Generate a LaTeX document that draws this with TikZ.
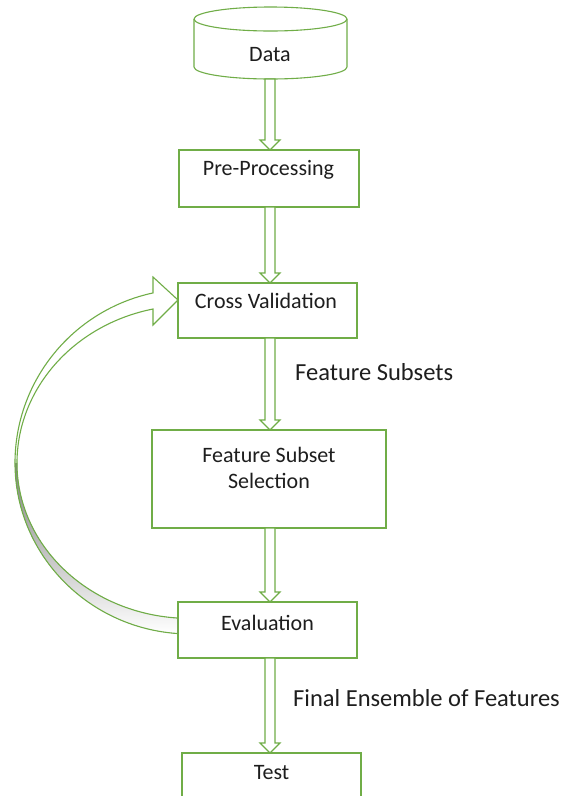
\documentclass[tikz,border=0pt]{standalone}
\usepackage{fontspec}
\setmainfont{Carlito}
\definecolor{leaf}{RGB}{112,173,71}
\definecolor{shade}{RGB}{204,204,204}
\definecolor{ink}{RGB}{30,30,30}
\begin{document}
\begin{tikzpicture}[x=1pt,y=-1pt,
  edge/.style={draw=leaf,line width=1.1pt},
  box/.style={edge,fill=white,inner sep=0pt},
  lbl/.style={font=\fontsize{22}{26}\selectfont,text=ink},
  note/.style={font=\fontsize{24.5}{28}\selectfont,text=ink,anchor=west,inner sep=0pt}]
\clip (0,0) rectangle (563,796);
\useasboundingbox (0,0) rectangle (563,796);
\fill[white] (0,0) rectangle (563,796);

% block arrow from y=#2 down to y=#3, centred on x=#1
\newcommand{\blockarrow}[3]{%
  \draw[edge,fill=white,line join=miter]
    (#1-5,#2) -- (#1+5,#2) -- (#1+5,#3-10) -- (#1+10,#3-10) -- (#1,#3)
    -- (#1-10,#3-10) -- (#1-5,#3-10) -- cycle;}

% Data store (y axis points down, so angle 90 is the lower side)
\draw[edge,fill=white]
  (194,19) -- (194,67) arc[start angle=180,end angle=0,x radius=76.5,y radius=12]
  -- (347,19) arc[start angle=0,end angle=-180,x radius=76.5,y radius=12];
\draw[edge] (194,19) arc[start angle=180,end angle=0,x radius=76.5,y radius=12];
\node[lbl] (data) at (270,55) {Data};

% process boxes
\node[box,minimum width=180pt,minimum height=57pt] (pre) at (269,178.5) {};
\node[lbl] at (268.5,170) {Pre-Processing};
\node[box,minimum width=179pt,minimum height=55pt] (cv) at (267.5,310.5) {};
\node[lbl] at (266,301) {Cross Validation};
\node[box,minimum width=234pt,minimum height=98pt] (fss) at (269,479) {};
\node[lbl,align=center] at (269,468) {Feature Subset\\Selection};
\node[box,minimum width=179pt,minimum height=56pt] (ev) at (267.5,630) {};
\node[lbl] at (267.5,623) {Evaluation};
\draw[edge,fill=white] (182,810) -- (182,753) -- (361,753) -- (361,810);
\node[lbl] (test) at (271.5,773) {Test};

% downward block arrows
\blockarrow{270}{79}{150}
\blockarrow{270}{207}{283}
\blockarrow{270}{338}{430}
\blockarrow{270}{528}{602}
\blockarrow{270}{658}{753}

\node[note] (fs) at (295,372) {Feature Subsets};
\node[note] (fe) at (293,698) {Final Ensemble of Features};

% feedback arrow from Evaluation back to Cross Validation
% lower, shaded part of the band
\fill[shade] (177,633.5) arc[start angle=94.26,end angle=180,x radius=175,y radius=171]
  -- (17,463) arc[start angle=180,end angle=94.3,x radius=173,y radius=155.5] -- cycle;
\draw[edge] (177,633.5) arc[start angle=94.26,end angle=180,x radius=175,y radius=171];
\draw[edge] (177,618) arc[start angle=94.3,end angle=180,x radius=173,y radius=155.5];
% upper part of the band with the head
\path[edge,fill=white,line join=miter]
  (15,463) arc[start angle=180,end angle=257.8,x radius=175,y radius=174]
  -- (153,277) -- (178,300) -- (153,325) -- (153,309)
  arc[start angle=257.65,end angle=180,x radius=173,y radius=157.6];
\end{tikzpicture}
\end{document}
